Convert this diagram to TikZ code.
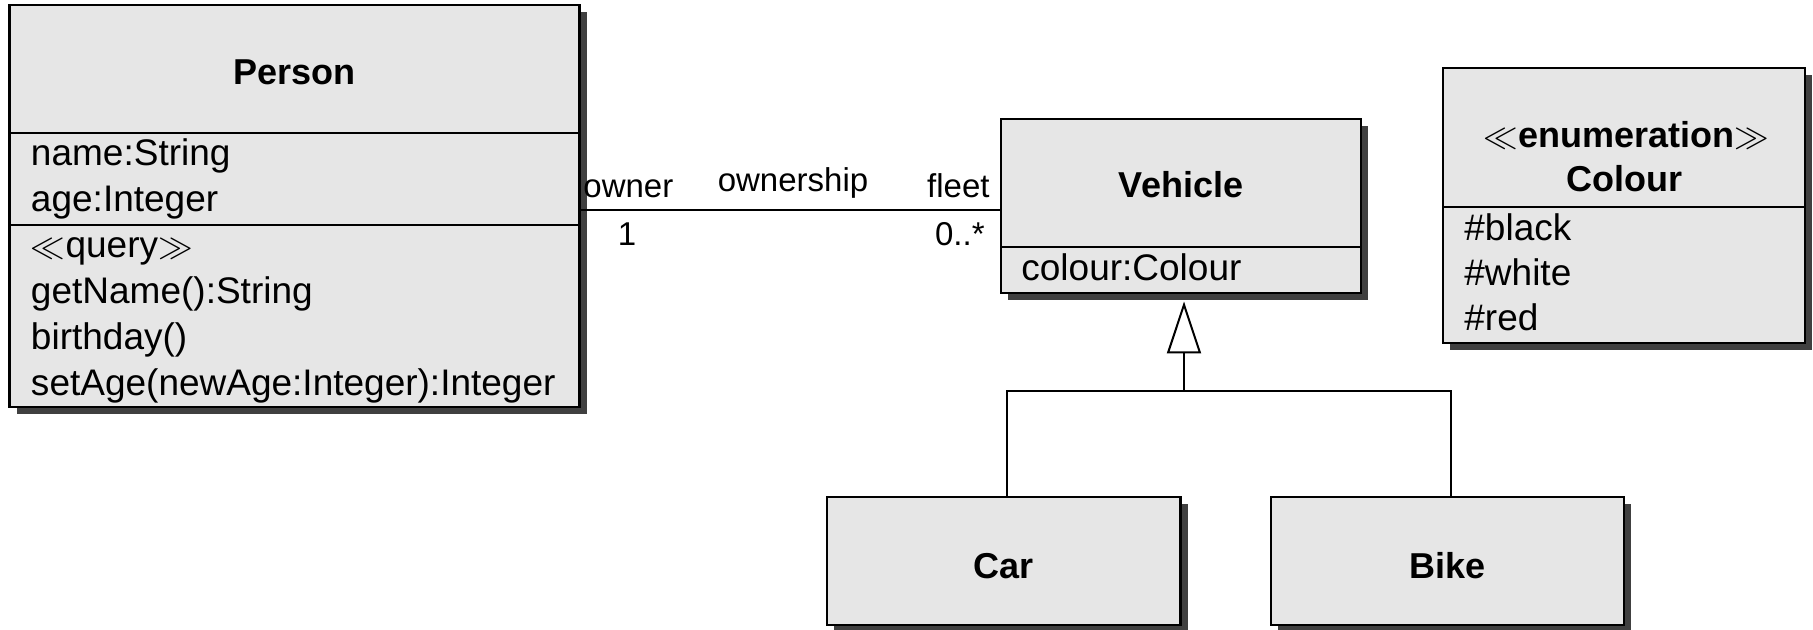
\documentclass[tikz,border=0pt]{standalone}
\usepackage{fontspec}
\setmainfont{Liberation Sans}
\usetikzlibrary{shadows,arrows.meta,calc}
\definecolor{boxfill}{RGB}{230,230,230}
\definecolor{boxshade}{RGB}{64,64,64}
\begin{document}
\begin{tikzpicture}[x=0.5pt,y=-0.5pt,
  classbox/.style={draw=black, line width=1.1pt, fill=boxfill, inner sep=0pt, outer sep=0pt,
    drop shadow={shadow xshift=3.5pt, shadow yshift=-3.5pt, fill=boxshade, opacity=1}},
  divider/.style={line width=1.1pt},
  link/.style={line width=1pt},
  classname/.style={font=\fontsize{18}{22}\selectfont\bfseries, anchor=base, inner sep=0pt},
  member/.style={font=\fontsize{18.5}{22}\selectfont, anchor=base west, inner sep=0pt},
  rolelabel/.style={font=\fontsize{16.5}{20}\selectfont, inner sep=0pt}]
\useasboundingbox (0,0) rectangle (1813,630);

% class boxes
\node[classbox, minimum width=285pt, minimum height=201pt] (person) at (294.5,206) {};
\node[classbox, minimum width=180pt, minimum height=87pt] (vehicle) at (1181,206) {};
\node[classbox, minimum width=181pt, minimum height=137.35pt] (colour) at (1624,205.7) {};
\node[classbox, minimum width=176.75pt, minimum height=64pt] (car) at (1003.75,561) {};
\node[classbox, minimum width=176.5pt, minimum height=64pt] (bike) at (1447.5,561) {};

% compartment separators
\draw[divider] (person.west |- 0,132.7) -- (person.east |- 0,132.7);
\draw[divider] (person.west |- 0,225) -- (person.east |- 0,225);
\draw[divider] (vehicle.west |- 0,246.7) -- (vehicle.east |- 0,246.7);
\draw[divider] (colour.west |- 0,206.7) -- (colour.east |- 0,206.7);

% Person
\node[classname] (personname) at (294.5,85) {Person};
\node[member] (pattr1) at (30.6,166) {name:String};
\node[member] (pattr2) at (30.6,212) {age:Integer};
\node[member] (pop0) at (30.6,258) {$\ll$query$\gg$};
\node[member] (pop1) at (30.6,304) {getName():String};
\node[member] (pop2) at (30.6,350) {birthday()};
\node[member] (pop3) at (30.6,395) {setAge(newAge:Integer):Integer};

% Vehicle
\node[classname] (vehiclename) at (1181,198) {Vehicle};
\node[member] (vattr1) at (1021,281) {colour:Colour};

% Colour enumeration
\node[classname, font=\fontsize{18}{22}\selectfont] (colourstereo) at (1626,147.5) {$\ll$\textbf{enumeration}$\gg$};
\node[classname] (colourname) at (1624,192) {Colour};
\node[member] (lit1) at (1464,240.5) {\#black};
\node[member] (lit2) at (1464,286) {\#white};
\node[member] (lit3) at (1464,331) {\#red};

% Car and Bike
\node[classname] (carname) at (1003.75,578) {Car};
\node[classname] (bikename) at (1447.5,578) {Bike};

% ownership association
\draw[link] ($(person.east)+(0,4)$) -- ($(vehicle.west)+(0,4)$);
\node[rolelabel, anchor=base west] (ownerrole) at (583,198) {owner};
\node[rolelabel, anchor=base] (assocname) at (793,192) {ownership};
\node[rolelabel, anchor=base east] (fleetrole) at (990,198) {fleet};
\node[rolelabel, anchor=base] (ownermult) at (627,246) {1};
\node[rolelabel, anchor=base east] (fleetmult) at (985,246) {0..*};

% generalization
\coordinate (gtip) at ($(vehicle.south)+(3,8.5)$);
\coordinate (gbar) at ($(vehicle.south)+(3,97.7)$);
\draw[link, -{Triangle[open, length=26pt, width=17pt]}] (gbar) -- (gtip);
\draw[link] ($(car.north)+(3,0)$) |- (gbar) -| ($(bike.north)+(3,0)$);
\end{tikzpicture}
\end{document}
